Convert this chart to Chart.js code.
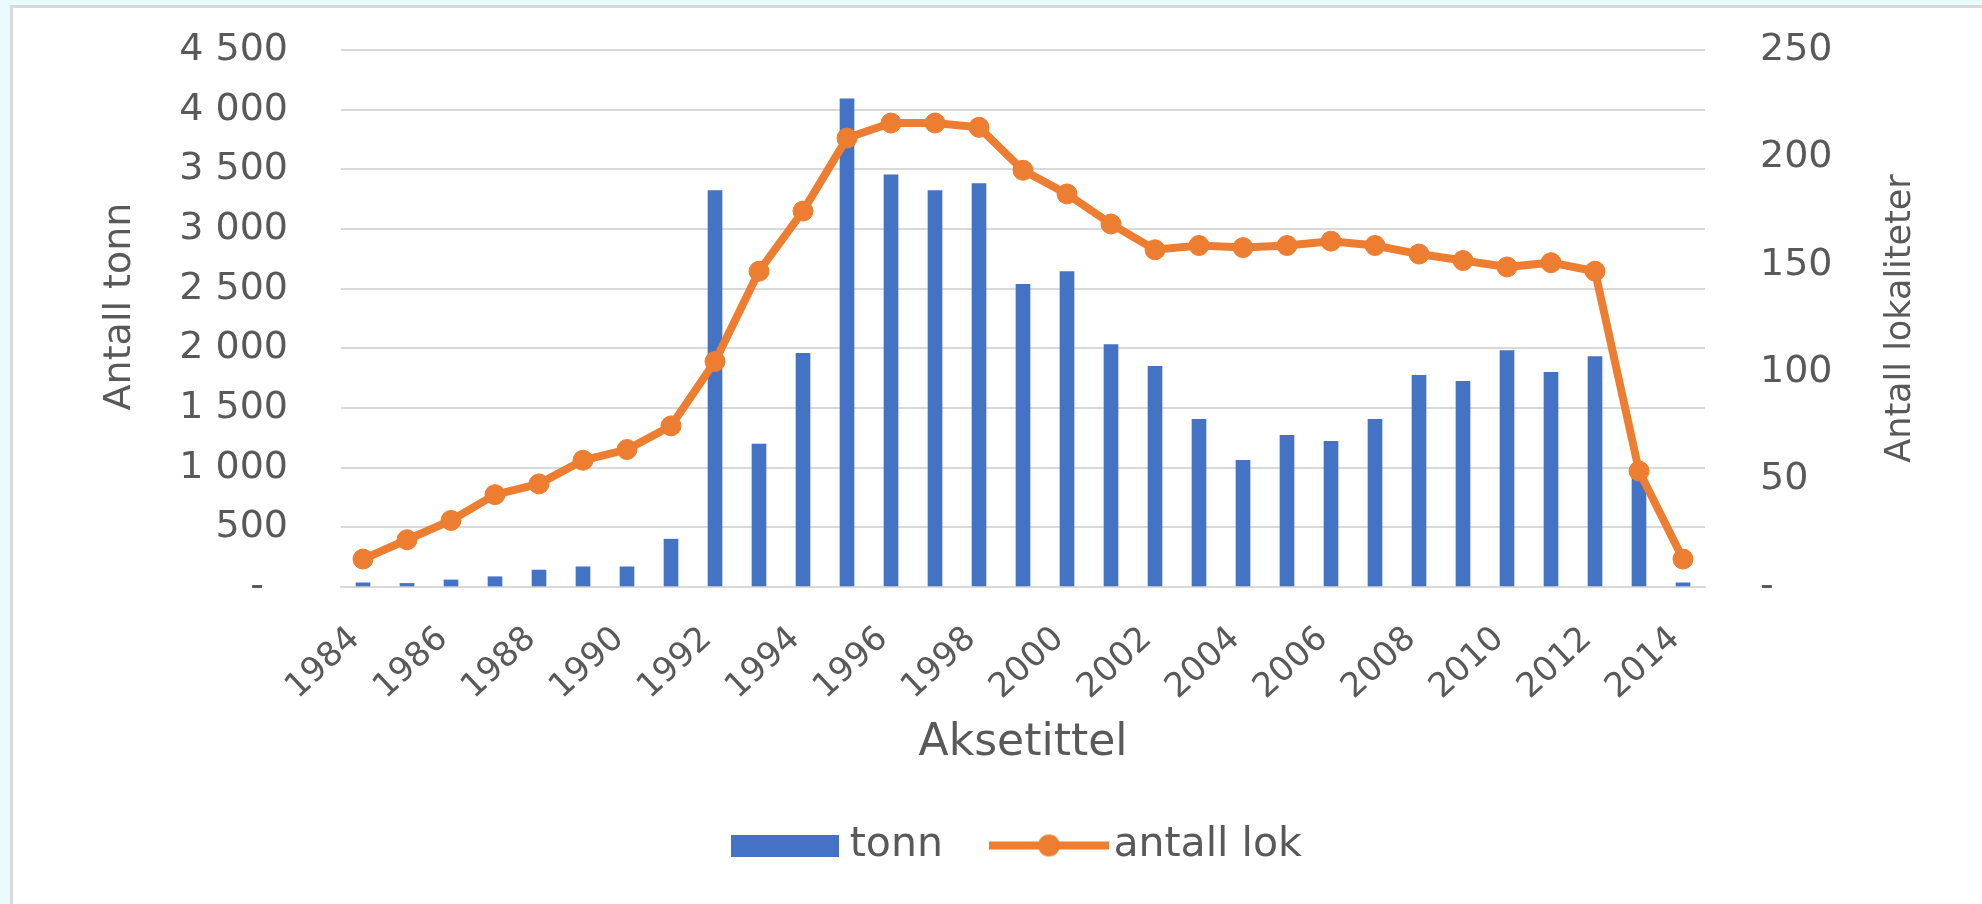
<!DOCTYPE html>
<html>
<head>
<meta charset="utf-8">
<script src="https://cdn.jsdelivr.net/npm/chart.js@4.4.1/dist/chart.umd.min.js"></script>
<style>
  html, body { margin: 0; padding: 0; width: 1982px; height: 904px; overflow: hidden; background: #e9fbfc; }
  #panel { position: absolute; left: 10px; top: 5px; width: 1990px; height: 910px; background: #fff; border: 3px solid #d9d9d9; }
  #chart { position: absolute; left: 0; top: 0; }
</style>
</head>
<body>
<div id="panel"></div>
<canvas id="chart" width="1982" height="904"></canvas>
<script>
let years = ["1984", "1985", "1986", "1987", "1988", "1989", "1990", "1991", "1992", "1993",
             "1994", "1995", "1996", "1997", "1998", "1999", "2000", "2001", "2002", "2003",
             "2004", "2005", "2006", "2007", "2008", "2009", "2010", "2011", "2012", "2013", "2014"];

let tonn = [35, 30, 59, 86, 142, 169, 169, 401, 3321, 1198,
            1958, 4091, 3453, 3321, 3380, 2537, 2643, 2031, 1849, 1406,
            1062, 1271, 1220, 1406, 1773, 1723, 1981, 1799, 1931, 950, 35];

let antallLok = [13, 22, 31, 43, 48, 59, 64, 75, 105, 147,
                 175, 209, 216, 216, 214, 194, 183, 169, 157, 159,
                 158, 159, 161, 159, 155, 152, 149, 151, 147, 54, 13];

const BLUE = "#4472C4";
const ORANGE = "#ED7D31";
const TEXT = "#595959";
const GRID = "#d9d9d9";
const FONT = "'DejaVu Sans', sans-serif";

Chart.defaults.font.family = FONT;
Chart.defaults.color = TEXT;

function spaced(v) {
    return String(v).replace(/\B(?=(\d{3})+(?!\d))/g, " ");
}

// legend swatches drawn as small canvases
function barSwatch() {
    let c = document.createElement("canvas");
    c.width = 108;
    c.height = 22;
    let g = c.getContext("2d");
    g.fillStyle = BLUE;
    g.fillRect(0, 0, 108, 22);
    return c;
}

function lineSwatch() {
    let c = document.createElement("canvas");
    c.width = 120;
    c.height = 26;
    let g = c.getContext("2d");
    g.strokeStyle = ORANGE;
    g.lineWidth = 8;
    g.beginPath();
    g.moveTo(0, 13);
    g.lineTo(120, 13);
    g.stroke();
    g.fillStyle = ORANGE;
    g.beginPath();
    g.arc(60, 13, 11, 0, Math.PI * 2);
    g.fill();
    return c;
}

// both axis titles read bottom-to-top like Excel
const axisTitles = {
    id: "axisTitles",
    afterDraw(chart) {
        let area = chart.chartArea;
        let ctx = chart.ctx;
        let mid = (area.top + area.bottom) / 2;

        function vertical(text, x, y, size) {
            ctx.save();
            ctx.translate(x, y);
            ctx.rotate(-Math.PI / 2);
            ctx.font = size + "px " + FONT;
            ctx.fillStyle = TEXT;
            ctx.textAlign = "center";
            ctx.textBaseline = "middle";
            ctx.fillText(text, 0, 0);
            ctx.restore();
        }

        vertical("Antall tonn", 120, mid - 12, 38);
        vertical("Antall lokaliteter", chart.scales.y1.right - 21, mid, 35);
    }
};

new Chart(document.getElementById("chart").getContext("2d"), {
    type: "bar",
    data: {
        labels: years,
        datasets: [{
            type: "bar",
            label: "tonn",
            data: tonn,
            backgroundColor: BLUE,
            barThickness: 14,
            yAxisID: "y",
            order: 1
        }, {
            type: "line",
            label: "antall lok",
            data: antallLok,
            borderColor: ORANGE,
            backgroundColor: ORANGE,
            borderWidth: 8,
            pointRadius: 10,
            pointBackgroundColor: ORANGE,
            pointBorderColor: ORANGE,
            pointBorderWidth: 1,
            tension: 0,
            yAxisID: "y1",
            order: 0
        }]
    },
    options: {
        responsive: false,
        animation: false,
        layout: { padding: { left: 121, right: 60, top: 50, bottom: 28 } },
        plugins: {
            tooltip: { enabled: false },
            legend: {
                position: "bottom",
                labels: {
                    usePointStyle: true,
                    pointStyleWidth: 88,
                    boxHeight: 22,
                    padding: 62,
                    color: TEXT,
                    font: { size: 41 },
                    generateLabels: () => [
                        { text: "tonn", fillStyle: BLUE, strokeStyle: BLUE, lineWidth: 0, pointStyle: barSwatch(), datasetIndex: 0, fontColor: TEXT },
                        { text: "antall lok", fillStyle: ORANGE, strokeStyle: ORANGE, lineWidth: 0, pointStyle: lineSwatch(), datasetIndex: 1, fontColor: TEXT }
                    ]
                }
            }
        },
        scales: {
            x: {
                offset: true,
                grid: { display: false, drawTicks: false },
                border: { display: true, color: GRID, width: 2 },
                ticks: {
                    autoSkip: false,
                    minRotation: 43,
                    maxRotation: 43,
                    padding: 32,
                    labelOffset: -8,
                    color: TEXT,
                    font: { size: 34 },
                    callback: (v, i) => (i % 2 === 0 ? years[i] : null)
                },
                title: {
                    display: true,
                    text: "Aksetittel",
                    color: TEXT,
                    font: { size: 44 },
                    padding: { top: 0, bottom: -7 }
                },
                afterFit(s) { s.height = 176; }
            },
            y: {
                position: "left",
                min: 0,
                max: 4500,
                ticks: {
                    stepSize: 500,
                    padding: 0,
                    color: TEXT,
                    font: { size: 38 },
                    callback: v => (v === 0 ? "-  " : spaced(v))
                },
                grid: { color: GRID, lineWidth: 2, drawTicks: true, tickLength: 53, tickColor: "rgba(0,0,0,0)" },
                border: { display: false },
                afterFit(s) { s.width = 220; }
            },
            y1: {
                position: "right",
                min: 0,
                max: 250,
                ticks: {
                    stepSize: 50,
                    padding: 0,
                    color: TEXT,
                    font: { size: 38 },
                    callback: v => (v === 0 ? "-" : spaced(v))
                },
                grid: { display: false, drawTicks: true, tickLength: 55 },
                border: { display: false },
                afterFit(s) { s.width = 217; }
            }
        }
    },
    plugins: [axisTitles]
});
</script>
</body>
</html>
